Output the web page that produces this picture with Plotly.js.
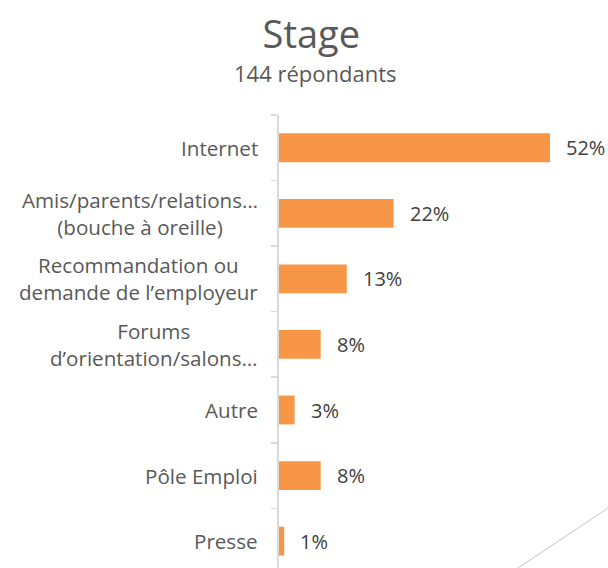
<!DOCTYPE html>
<html><head><meta charset="utf-8">
<script src="https://cdn.plot.ly/plotly-3.0.1.min.js"></script>
<style>html,body{margin:0;padding:0;background:#fff}</style>
</head><body><div id="chart" style="width:608px;height:568px"></div>
<script>
const categories = ["Internet", "Amis/parents/relations…<br>(bouche à oreille)", "Recommandation ou<br>demande de l’employeur", "Forums<br>d’orientation/salons…", "Autre", "Pôle Emploi", "Presse"];
const values = [52, 22, 13, 8, 3, 8, 1];
const valueLabels = ["52%", "22%", "13%", "8%", "3%", "8%", "1%"];
const titleText = "Stage";
const subtitleText = "144 répondants";

const ids = categories.map((c, i) => "c" + i);
const FONT = "Open Sans, sans-serif";

const labelAnns = categories.map((c, i) => ({
  x: 0, y: ids[i], xref: "x", yref: "y", text: c, showarrow: false,
  xanchor: "right", xshift: -19, align: "center",
  font: {family: FONT, size: 20.6, color: "#595959"}
}));
const valueAnns = values.map((v, i) => ({
  x: v, y: ids[i], xref: "x", yref: "y", text: valueLabels[i], showarrow: false,
  xanchor: "left", xshift: 14,
  font: {family: FONT, size: 20, color: "#404040"}
}));

const data = [{
  type: "bar", orientation: "h", y: ids, x: values,
  marker: {color: "#F79646"}, hoverinfo: "skip"
}];

const layout = {
  width: 608, height: 568,
  margin: {l: 279, r: 8, t: 115, b: 0},
  paper_bgcolor: "#fff", plot_bgcolor: "#fff",
  bargap: 0.56,
  showlegend: false,
  title: {text: titleText, x: 0.512, xanchor: "center", y: 0.915, yanchor: "bottom", yref: "container",
    font: {family: FONT, size: 38, color: "#595959"}},
  xaxis: {range: [0, 61.6], visible: false, fixedrange: true},
  yaxis: {type: "category", range: [6.41, -0.5], autorange: false, showticklabels: false,
    showline: true, linecolor: "#d9d9d9", linewidth: 2,
    ticks: "outside", ticklen: 6, tickcolor: "#d9d9d9", tickwidth: 1.5, tickson: "boundaries",
    showgrid: false, zeroline: false, fixedrange: true},
  annotations: [
    {xref: "paper", yref: "paper", x: 0.115, y: 1.0, yshift: 42, xanchor: "center", yanchor: "middle",
     text: subtitleText, showarrow: false, font: {family: FONT, size: 22, color: "#595959"}}
  ].concat(labelAnns, valueAnns),
  shapes: [
    {type: "line", xref: "paper", yref: "paper", x0: 0.745, y0: 0, x1: 1.031, y1: 0.135,
     line: {color: "#cfd3dd", width: 1.2}}
  ]
};
Plotly.newPlot("chart", data, layout, {displayModeBar: false, staticPlot: true});
</script></body></html>
